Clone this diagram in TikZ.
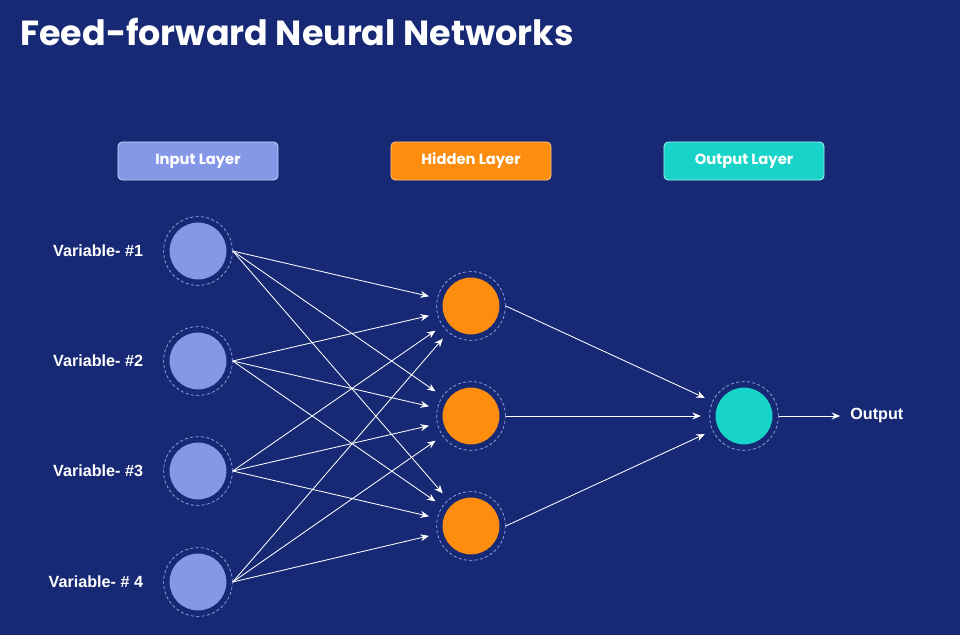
\documentclass[tikz,border=0pt]{standalone}
\usepackage{fontspec}
\setmainfont{Liberation Sans}
\newfontfamily\gothic{Poppins}
\usetikzlibrary{arrows.meta,positioning}

\definecolor{slidebg}{RGB}{23,41,117}
\definecolor{ringcol}{RGB}{150,170,235}
\definecolor{inputcol}{RGB}{133,152,232}
\definecolor{inputedge}{RGB}{195,205,245}
\definecolor{hiddencol}{RGB}{253,141,14}
\definecolor{hiddenedge}{RGB}{255,195,130}
\definecolor{outputcol}{RGB}{24,212,200}
\definecolor{outputedge}{RGB}{160,240,232}

\begin{document}
\begin{tikzpicture}[
    x=0.025cm, y=-0.025cm,
    font=\bfseries\fontsize{11.5}{13}\selectfont,
    layerbox/.style={
      rectangle, rounded corners=3pt,
      minimum width=4cm, minimum height=0.95cm,
      draw, line width=0.6pt, text=white,
      font=\gothic\bfseries\fontsize{10.5}{12}\selectfont
    },
    neuron/.style={
      circle, draw=ringcol, dash pattern=on 2.2pt off 1.6pt,
      line width=0.5pt, minimum size=1.72cm,
      path picture={\fill[#1] (path picture bounding box.center) circle (0.71cm);}
    },
    varlabel/.style={text=white},
    link/.style={-{Stealth[length=6pt,width=5pt]}, white, line width=0.6pt, shorten >=6pt},
  ]

  \path[use as bounding box, fill=slidebg] (0,0) rectangle (960,635);

  %% ── Title ────────────────────────────────────────────────
  \node[anchor=west, text=white, inner sep=0pt,
        font=\gothic\bfseries\fontsize{24.8}{28}\selectfont]
    (title) at (20,32) {Feed-forward Neural Networks};

  %% ── Layer headers ────────────────────────────────────────
  \node[layerbox, fill=inputcol, draw=inputedge]   (inhead)  at (198,161) {Input Layer};
  \node[layerbox, fill=hiddencol, draw=hiddenedge] (hidhead) at (471,161) {Hidden Layer};
  \node[layerbox, fill=outputcol, draw=outputedge] (outhead) at (744,161) {Output Layer};

  %% ── Input neurons ────────────────────────────────────────
  \node[neuron=inputcol] (in1) at (198,251) {};
  \node[neuron=inputcol] (in2) at (198,361) {};
  \node[neuron=inputcol] (in3) at (198,471) {};
  \node[neuron=inputcol] (in4) at (198,582) {};

  \node[varlabel, left=0.38cm of in1] (var1) {Variable- \#1};
  \node[varlabel, left=0.38cm of in2] (var2) {Variable- \#2};
  \node[varlabel, left=0.38cm of in3] (var3) {Variable- \#3};
  \node[varlabel, left=0.38cm of in4] (var4) {Variable- \# 4};

  %% ── Hidden neurons ───────────────────────────────────────
  \node[neuron=hiddencol] (hid1) at (471,306) {};
  \node[neuron=hiddencol] (hid2) at (471,416) {};
  \node[neuron=hiddencol] (hid3) at (471,526) {};

  %% ── Output neuron ────────────────────────────────────────
  \node[neuron=outputcol] (out) at (744,416) {};
  \node[varlabel, anchor=west, inner sep=0pt] (outlabel) at (850,416) {Output};

  %% ── Arrows: input -> hidden ──────────────────────────────
  \draw[link] (in1.east) -- (hid1);
  \draw[link] (in1.east) -- (hid2);
  \draw[link] (in1.east) -- (hid3);
  \draw[link] (in2.east) -- (hid1);
  \draw[link] (in2.east) -- (hid2);
  \draw[link] (in2.east) -- (hid3);
  \draw[link] (in3.east) -- (hid1);
  \draw[link] (in3.east) -- (hid2);
  \draw[link] (in3.east) -- (hid3);
  \draw[link] (in4.east) -- (hid1);
  \draw[link] (in4.east) -- (hid2);
  \draw[link] (in4.east) -- (hid3);

  %% ── Arrows: hidden -> output ─────────────────────────────
  \draw[link] (hid1.east) -- (out);
  \draw[link] (hid2.east) -- (out);
  \draw[link] (hid3.east) -- (out);
  \draw[link, shorten >=7pt] (out.east) -- (outlabel.west);

\end{tikzpicture}
\end{document}
